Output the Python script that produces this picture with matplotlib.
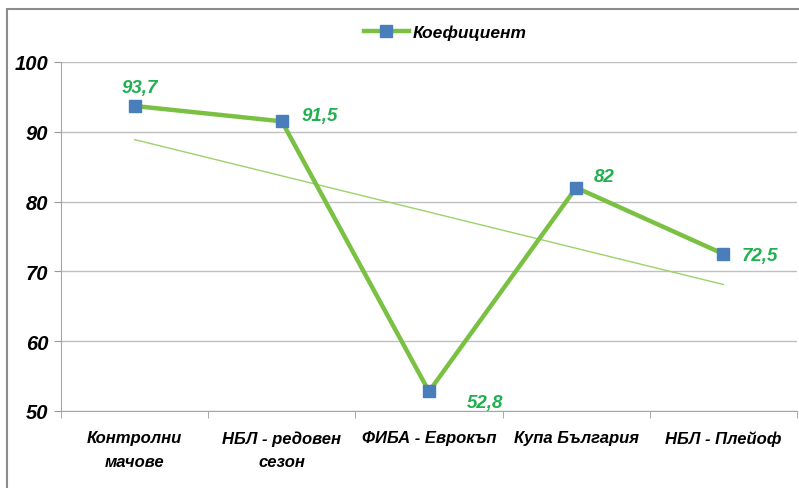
import numpy as np
import matplotlib
matplotlib.use("Agg")
import matplotlib.pyplot as plt
from matplotlib.patches import Rectangle
from matplotlib import font_manager as fm

categories = ["Контролни\nмачове", "НБЛ - редовен\nсезон", "ФИБА - Еврокъп", "Купа България", "НБЛ - Плейоф"]
values = [93.7, 91.5, 52.8, 82, 72.5]
value_labels = ["93,7", "91,5", "52,8", "82", "72,5"]
series_name = "Коефициент"
yticks = [50, 60, 70, 80, 90, 100]

names = {f.name for f in fm.fontManager.ttflist}
fam = "Liberation Sans Narrow" if "Liberation Sans Narrow" in names else "Liberation Sans"
plt.rcParams['font.family'] = [fam, 'DejaVu Sans']

W, H = 799, 489
fig = plt.figure(figsize=(W / 100, H / 100), dpi=100)
ax = fig.add_axes([61 / W, 1 - 412 / H, (797 - 61) / W, (412 - 63) / H])

x = np.arange(len(values))
line_c = "#7ac143"
mark_c = "#4a7ebb"
lab_c = "#1fb04f"

ax.plot(x, values, color=line_c, lw=3.2, marker="s", ms=8.5,
        mfc=mark_c, mec=mark_c, zorder=4, label=series_name)

# linear trendline
coef = np.polyfit(x, values, 1)
ax.plot([x[0], x[-1]], np.polyval(coef, [x[0], x[-1]]), color="#9ad36a", lw=1.0, zorder=3)

offsets = [(4, 13), (27, 4), (40, -8), (20, 8), (26, -1)]
for xi, v, t, off in zip(x, values, value_labels, offsets):
    ax.annotate(t, (xi, v), xytext=off, textcoords="offset points", ha="center", va="center",
                color=lab_c, fontsize=13.5, fontweight="bold", fontstyle="italic", zorder=5)

ax.set_xlim(-0.5, len(values) - 0.5)
ax.set_ylim(50, 100)
ax.set_yticks(yticks)
ax.set_yticklabels([str(t) for t in yticks], fontsize=14.5, fontweight="bold", fontstyle="italic")
ax.yaxis.grid(True, color="#bfbfbf", lw=1)
ax.set_axisbelow(True)

ax.set_xticks(x)
ax.set_xticklabels(categories, fontsize=12, fontweight="bold", fontstyle="italic", linespacing=1.7)
ax.tick_params(axis="x", length=0, pad=14)
ax.set_xticks(np.arange(-0.5, len(values)), minor=True)
ax.tick_params(axis="x", which="minor", length=5, color="#999999")
ax.tick_params(axis="y", length=5, color="#999999", pad=4)

for s in ["top", "right"]:
    ax.spines[s].set_visible(False)
for s in ["left", "bottom"]:
    ax.spines[s].set_color("#a6a6a6")

leg = fig.legend(loc="center", bbox_to_anchor=(445 / W, 1 - 33 / H), frameon=False,
                 prop=dict(size=12.5, weight="bold", style="italic"), handlelength=2.6,
                 handletextpad=0.2)

fig.patches.append(Rectangle((7 / W, -0.1), 1.2, 1 - 10 / H + 0.1, transform=fig.transFigure,
                             fill=False, edgecolor="#8c8c8c", lw=1.5, zorder=0))

fig.savefig("out.png", dpi=100)
